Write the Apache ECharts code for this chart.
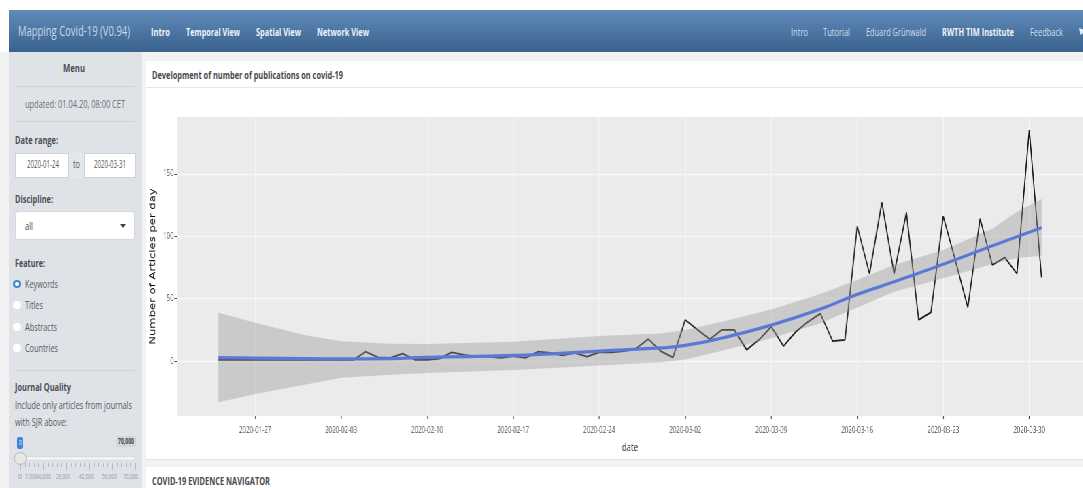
<!DOCTYPE html>
<html><head><meta charset="utf-8">
<script src="https://cdn.jsdelivr.net/npm/echarts@6/dist/echarts.min.js"></script>
<style>
html,body{margin:0;padding:0;width:1083px;height:488px;overflow:hidden;background:#fff;font-family:"Open Sans",sans-serif}
#page{position:absolute;left:0;top:0;width:1083px;height:488px;overflow:hidden;filter:blur(.4px)}
.b{position:absolute;box-sizing:border-box}
.t{position:absolute;white-space:nowrap;transform-origin:left center;line-height:1}
#wrap{position:absolute;left:0;top:0;height:488px;transform-origin:left top}
</style></head><body>
<div id="page"><div id="chrome"></div><div id="wrap"></div></div>
<script>
const dates=["2020-01-24","2020-01-25","2020-01-26","2020-01-27","2020-01-28","2020-01-29","2020-01-30","2020-01-31","2020-02-01","2020-02-02","2020-02-03","2020-02-04","2020-02-05","2020-02-06","2020-02-07","2020-02-08","2020-02-09","2020-02-10","2020-02-11","2020-02-12","2020-02-13","2020-02-14","2020-02-15","2020-02-16","2020-02-17","2020-02-18","2020-02-19","2020-02-20","2020-02-21","2020-02-22","2020-02-23","2020-02-24","2020-02-25","2020-02-26","2020-02-27","2020-02-28","2020-02-29","2020-03-01","2020-03-02","2020-03-03","2020-03-04","2020-03-05","2020-03-06","2020-03-07","2020-03-08","2020-03-09","2020-03-10","2020-03-11","2020-03-12","2020-03-13","2020-03-14","2020-03-15","2020-03-16","2020-03-17","2020-03-18","2020-03-19","2020-03-20","2020-03-21","2020-03-22","2020-03-23","2020-03-24","2020-03-25","2020-03-26","2020-03-27","2020-03-28","2020-03-29","2020-03-30","2020-03-31"];
const articles=[1,1,1,1,1,1,1,1,1,1,1,1,7.5,3,2.5,6,1,1,2,7,5,3.5,3.5,2.5,4,2.5,7.5,6.5,4.5,6.5,3.5,7,7,8,10,17.6,8,3,33,25,17.5,25,25,9,17,27.5,12,23.5,31.5,38,16,17,108,70,127,70,119,33,39,116,80,43,114,77,83,70,185,67];
const fitDates=["2020-01-24","2020-01-27","2020-01-31","2020-02-03","2020-02-07","2020-02-10","2020-02-17","2020-02-24","2020-02-29","2020-03-02","2020-03-05","2020-03-09","2020-03-13","2020-03-16","2020-03-19","2020-03-23","2020-03-27","2020-03-29","2020-03-31"];
const fit=[2.7,2.4,1.9,1.7,2,3,4.5,8,10.5,12.5,18.5,28.8,41.6,53.4,63.5,77.5,92.4,99.6,106.8];
const fitUpper=[38.7,30.7,20.8,15.8,13.9,13.6,15.5,20,22,24.8,31.5,41.4,53.7,65,77,89,106,119.6,129.8];
const fitLower=[-33,-26.4,-19,-13.4,-11,-9.6,-7.2,-3.5,-1,1.3,8.3,18.2,30.2,43,55.5,66.3,77.7,82.5,84.4];
const dateTicks=["2020-01-27","2020-02-03","2020-02-10","2020-02-17","2020-02-24","2020-03-02","2020-03-09","2020-03-16","2020-03-23","2020-03-30"];
const valueTicks=[0,50,100,150];
const chartTitle="Development of number of publications on covid-19";
const yTitle="Number of Articles per day";
const xTitle="date";

const S=0.68;
const chrome=document.getElementById('chrome');
function box(x,y,w,h,css){const d=document.createElement('div');d.className='b';d.style.cssText+=`left:${x}px;top:${y}px;width:${w}px;height:${h}px;`+(css||'');chrome.appendChild(d);return d}
function text(x,cy,w,str,size,color,bold){const d=document.createElement('div');d.className='t';d.textContent=str;d.style.cssText+=`left:${x}px;top:${cy-size/2-0.8}px;font-size:${size}px;color:${color};font-weight:${bold?700:400};`;chrome.appendChild(d);const m=d.getBoundingClientRect().width;d.style.transform=`scaleX(${w/m})`;return d}
const dark='#4a4e54';
box(0,52,1083,436,'background:#f2f2f2');
box(9,10,1074,42,'background:linear-gradient(#5f8ab8,#3a628e)');
box(9,52,133,436,'background:#dfe3e8');
text(18,31,112,'Mapping Covid-19 (V0.94)',15,'#c9d6e4');
[[151,19,'Intro'],[186,54,'Temporal View'],[256,45,'Spatial View'],[317,52,'Network View']].forEach(a=>text(a[0],32,a[1],a[2],11,'#eef3f8',true));
[[791,17,'Intro',0],[823,27,'Tutorial',0],[866,60,'Eduard Grünwald',0],[942,72,'RWTH TIM Institute',1],[1030,33,'Feedback',0]].forEach(a=>text(a[0],32,a[1],a[2],11,a[3]?'#eef3f8':'#d3dee9',!!a[3]));
box(1079,28,4,7,'background:#e6edf4;clip-path:polygon(0 0,100% 20%,100% 70%,40% 100%,20% 50%)');
text(63,68,22,'Menu',11,dark,true);
box(15,86,120,1,'background:#cfd3d8');
text(25,104,100,'updated: 01.04.20, 08:00 CET',11,'#696e74');
box(15,121,120,1,'background:#cfd3d8');
text(15,140,43,'Date range:',11,dark,true);
box(15,153,54,25,'background:#fff;border:1px solid #cdd2d7');
box(69,153,15,25,'background:#e4e7ea');
box(84,153,52,25,'background:#fff;border:1px solid #cdd2d7');
text(27,165,32,'2020-01-24',10,'#555');
text(73,165,7,'to',10,'#555');
text(94,165,32,'2020-03-31',10,'#555');
text(15,199,38,'Discipline:',11,dark,true);
box(15,211,120,29,'background:#fff;border:1px solid #d5d8dc;border-radius:3px');
text(25,226,8,'all',11,'#444');
box(120,224,6,4,'background:#444;clip-path:polygon(0 0,100% 0,50% 100%)');
text(15,263,30,'Feature:',11,dark,true);
[[284,'Keywords',33],[305,'Titles',18],[327,'Abstracts',32],[348,'Countries',33]].forEach((r,i)=>{
  box(13,r[0]-4,8,8,i==0?'background:#fff;border:2.5px solid #3f86d4;border-radius:50%':'background:#fff;border-radius:50%');
  text(25,r[0],r[2],r[1],11,'#55595f');
});
box(15,370,120,1,'background:#cfd3d8');
text(15,387,56,'Journal Quality',11,dark,true);
text(15,405,117,'Include only articles from journals',11,'#55595f');
text(15,422,52,'with SJR above:',11,'#55595f');
box(17,437,6,12,'background:#3f86d4;border-radius:2px');
text(18.5,443,3,'0',8,'#e8f0f8');
box(116,436,20,11,'background:#d2d6da;border-radius:2px');
text(118,441.5,16,'70,000',8,'#444',true);
box(15,456,120,5,'background:#f1f2f3;border-radius:3px;border:1px solid #d8dbde');
box(14,452,13,13,'background:#e8e8e8;border:1px solid #bbb;border-radius:50%');
for(let i=0;i<=25;i++){box(20+i*4.6,463,0.7,i%5==0?7:4,'background:#a9bfd6')}
[[18,4,'0'],[25,26,'7,0084,000'],[56,14,'28,000'],[79,15,'42,000'],[102,15,'56,000'],[123,15,'70,000']].forEach(a=>text(a[0],477,a[1],a[2],8,'#8f959b'));
box(146,61,937,399,'background:#fff;border-bottom:1px solid #e3e3e3');
box(146,87,937,1,'background:#e6e6e6');
text(152,75,191,chartTitle,11,'#45494e',true);
box(146,467,937,21,'background:#fff');
text(152,482,118,'COVID-19 EVIDENCE NAVIGATOR',10,'#45494e',true);

const wrap=document.getElementById('wrap');
wrap.style.width=(1083/S)+'px';
wrap.style.transform=`scaleX(${S})`;
const chart=echarts.init(wrap,null,{width:1083/S,height:488});
const ms=s=>+echarts.time.parse(s);
const DAY=86400000, pad=3.35*DAY;
const rows=fitDates.map((d,i)=>[ms(d),fitLower[i],fitUpper[i]]);
const tickMs=dateTicks.map(ms);
chart.setOption({
  animation:false,backgroundColor:'transparent',
  grid:{left:177/S,top:117,width:905/S,height:299,show:true,backgroundColor:'#ebebeb',borderWidth:0,containLabel:false},
  xAxis:{type:'value',min:ms(dates[0])-pad,max:ms(dates[dates.length-1])+pad,
    name:xTitle,nameLocation:'middle',nameGap:26,nameTextStyle:{color:'#111',fontSize:11.5,fontFamily:'Open Sans'},
    axisLine:{show:false,onZero:false},
    axisTick:{show:true,length:3,customValues:tickMs,lineStyle:{color:'#444',width:1.2}},
    splitLine:{show:true,lineStyle:{color:'#f8f8f8',width:1.1}},
    axisLabel:{customValues:tickMs,hideOverlap:false,margin:10,fontSize:9,color:'#4a4a4a',fontFamily:'Open Sans',
      formatter:v=>echarts.time.format(v,'{yyyy}-{MM}-{dd}',false)}},
  yAxis:{type:'value',min:-44,max:195.5,
    name:yTitle,nameLocation:'middle',nameGap:29,nameMoveOverlap:false,nameRotate:90,nameTextStyle:{color:'#111',fontSize:11.6,fontFamily:'DejaVu Sans'},
    axisLine:{show:false,onZero:false},
    axisTick:{show:true,length:4,customValues:valueTicks,lineStyle:{color:'#444',width:1}},
    splitLine:{show:true,lineStyle:{color:'#f6f6f6',width:1.4}},
    axisLabel:{customValues:valueTicks,margin:5,fontSize:9,color:'#4a4a4a',fontFamily:'Open Sans'}},
  series:[
    {name:'articles',type:'line',z:2,showSymbol:false,symbol:'none',data:dates.map((d,i)=>[ms(d),articles[i]]),lineStyle:{color:'#1a1a1a',width:1.7},clip:true},
    {name:'band',type:'custom',z:3,data:rows,encode:{x:0,y:[1,2]},silent:true,
      renderItem:(p,api)=>{
        if(p.dataIndex!==0) return null;
        const pts=rows.map(r=>api.coord([r[0],r[2]])).concat(rows.slice().reverse().map(r=>api.coord([r[0],r[1]])));
        return {type:'polygon',shape:{points:pts},style:{fill:'rgba(153,153,153,0.4)'}};
      }},
    {name:'fit',type:'line',z:4,showSymbol:false,symbol:'none',smooth:0.5,data:fitDates.map((d,i)=>[ms(d),fit[i]]),lineStyle:{color:'#5a78d8',width:3.2}}
  ]
});
</script></body></html>
